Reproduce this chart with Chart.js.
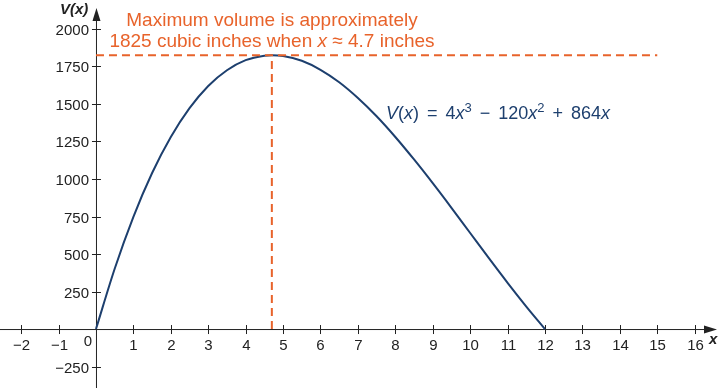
<!DOCTYPE html>
<html>
<head>
<meta charset="utf-8">
<script src="https://cdn.jsdelivr.net/npm/chart.js@4.4.1/dist/chart.umd.min.js"></script>
<style>
  html, body { margin: 0; padding: 0; background: #fff; }
  #wrap { width: 719px; height: 388px; }
</style>
</head>
<body>
<div id="wrap"><canvas id="chart" width="719" height="388"></canvas></div>
<script>
// 曲線 V(x) の読み取り値
const xValues = [0, 0.5, 1, 1.5, 2, 2.5, 3, 3.5, 4, 4.5, 4.7, 5, 5.5, 6, 6.5, 7, 7.5, 8, 8.5, 9, 9.5, 10, 10.5, 11, 11.5, 12];
const vValues = [0, 402, 748, 1040, 1280, 1472, 1620, 1725, 1792, 1822, 1825, 1820, 1788, 1728, 1645, 1540, 1418, 1280, 1130, 972, 808, 640, 472, 308, 150, 0];

// 最大値の点線
const maxX = 4.7;
const maxV = 1825;
const guideEndX = 15;

// 目盛りラベル
const xTicks = [-2, -1, 1, 2, 3, 4, 5, 6, 7, 8, 9, 10, 11, 12, 13, 14, 15, 16];
const yTicks = [-250, 250, 500, 750, 1000, 1250, 1500, 1750, 2000];

const ORANGE = '#e8632b';
const NAVY = '#1d3f6e';
const AXIS = '#222';
const FONT = '"Liberation Sans", Arial, sans-serif';

function fmt(n) {
    return n < 0 ? '\u2212' + Math.abs(n) : String(n);
}

// 斜体や上付きを含む文字列を描く（pad は左右の余白）
function drawRuns(ctx, runs, x, y, size, color, align) {
    const fontOf = r => (r.i ? 'italic ' : '') + (r.sup ? Math.round(size * 0.7) : size) + 'px ' + FONT;
    const widthOf = r => { ctx.font = fontOf(r); return ctx.measureText(r.t).width + 2 * (r.pad || 0); };
    let total = 0;
    runs.forEach(r => { total += widthOf(r); });
    let cx = align === 'center' ? x - total / 2 : x;
    ctx.fillStyle = color;
    ctx.textAlign = 'left';
    ctx.textBaseline = 'alphabetic';
    runs.forEach(r => {
        const w = widthOf(r);
        ctx.fillText(r.t, cx + (r.pad || 0), r.sup ? y - size * 0.38 : y);
        cx += w;
    });
}

const axesPlugin = {
    id: 'axesPlugin',
    beforeDatasetsDraw(chart) {
        const ctx = chart.ctx;
        const xs = chart.scales.x, ys = chart.scales.y;
        const x0 = xs.getPixelForValue(0), y0 = ys.getPixelForValue(0);
        ctx.save();
        ctx.strokeStyle = AXIS;
        ctx.fillStyle = AXIS;
        ctx.lineWidth = 1;
        // 軸線
        ctx.beginPath();
        ctx.moveTo(0, y0 + 0.5); ctx.lineTo(708, y0 + 0.5);
        ctx.moveTo(x0 + 0.5, 388); ctx.lineTo(x0 + 0.5, 18);
        ctx.stroke();
        // 矢印
        ctx.beginPath();
        ctx.moveTo(717, y0 + 0.5); ctx.lineTo(704, y0 - 3.5); ctx.lineTo(704, y0 + 4.5); ctx.closePath();
        ctx.fill();
        ctx.beginPath();
        ctx.moveTo(x0 + 0.5, 8); ctx.lineTo(x0 - 3.5, 21); ctx.lineTo(x0 + 4.5, 21); ctx.closePath();
        ctx.fill();
        // 目盛り
        ctx.font = '15px ' + FONT;
        ctx.textAlign = 'center';
        ctx.textBaseline = 'top';
        xTicks.forEach(v => {
            const px = Math.round(xs.getPixelForValue(v)) + 0.5;
            ctx.beginPath(); ctx.moveTo(px, y0 - 4); ctx.lineTo(px, y0 + 5); ctx.stroke();
            ctx.fillText(fmt(v), px, y0 + 9);
        });
        ctx.textAlign = 'right';
        ctx.textBaseline = 'middle';
        yTicks.forEach(v => {
            const py = Math.round(ys.getPixelForValue(v)) + 0.5;
            ctx.beginPath(); ctx.moveTo(x0 - 4, py); ctx.lineTo(x0 + 5, py); ctx.stroke();
            ctx.fillText(fmt(v), x0 - 7, py + 1);
        });
        ctx.textAlign = 'right';
        ctx.textBaseline = 'top';
        ctx.fillText('0', x0 - 4, y0 + 5);
        // 軸ラベル
        ctx.font = 'italic bold 15px ' + FONT;
        ctx.textAlign = 'left';
        ctx.textBaseline = 'middle';
        ctx.fillText('V(x)', 60, 10);
        ctx.fillText('x', 709, y0 + 11);
        ctx.restore();
    },
    afterDatasetsDraw(chart) {
        const ctx = chart.ctx;
        ctx.save();
        drawRuns(ctx, [{ t: 'Maximum volume is approximately' }], 272, 26, 19, ORANGE, 'center');
        drawRuns(ctx, [{ t: '1825 cubic inches when ' }, { t: 'x', i: true }, { t: ' \u2248 4.7 inches' }], 272, 47, 19, ORANGE, 'center');
        drawRuns(ctx, [
            { t: 'V', i: true }, { t: '(' }, { t: 'x', i: true }, { t: ')' }, { t: '=', pad: 8 }, { t: '4' },
            { t: 'x', i: true }, { t: '3', sup: true }, { t: '\u2212', pad: 8 }, { t: '120' }, { t: 'x', i: true },
            { t: '2', sup: true }, { t: '+', pad: 8 }, { t: '864' }, { t: 'x', i: true }
        ], 386, 119, 18, NAVY, 'left');
        ctx.restore();
    }
};

const curve = xValues.map((x, i) => ({ x: x, y: vValues[i] }));

new Chart(document.getElementById('chart').getContext('2d'), {
    type: 'scatter',
    data: {
        datasets: [
            {
                data: [{ x: 0, y: maxV }, { x: guideEndX, y: maxV }],
                showLine: true, borderColor: ORANGE, borderWidth: 2, borderDash: [8, 5],
                pointRadius: 0
            },
            {
                data: [{ x: maxX, y: 0 }, { x: maxX, y: maxV }],
                showLine: true, borderColor: ORANGE, borderWidth: 2, borderDash: [8, 5],
                pointRadius: 0
            },
            {
                data: curve,
                showLine: true, borderColor: NAVY, borderWidth: 2,
                cubicInterpolationMode: 'monotone', pointRadius: 0
            }
        ]
    },
    options: {
        responsive: false,
        animation: false,
        layout: { padding: 0 },
        plugins: { legend: { display: false }, tooltip: { enabled: false } },
        scales: {
            x: { type: 'linear', display: false, min: -2.565, max: 16.65 },
            y: { type: 'linear', display: false, min: -393, max: 2193 }
        }
    },
    plugins: [axesPlugin]
});
</script>
</body>
</html>
